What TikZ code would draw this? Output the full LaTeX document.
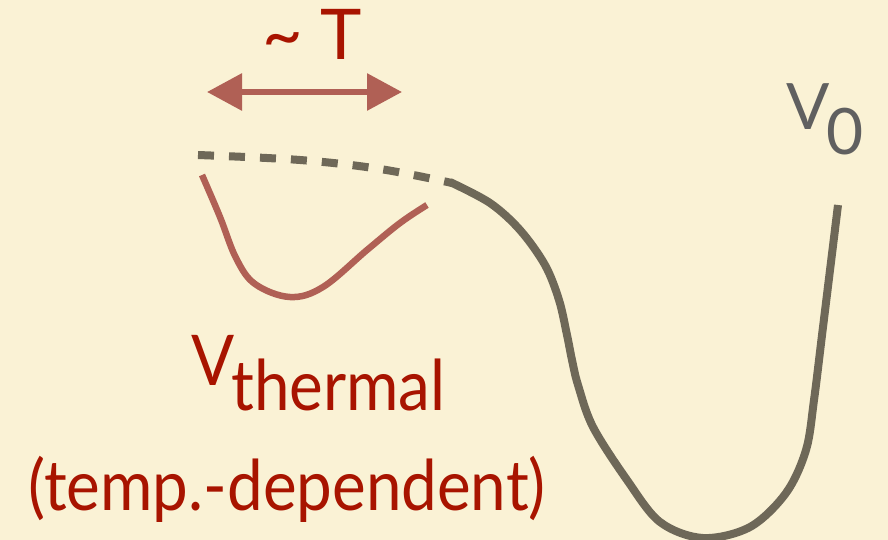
\documentclass[tikz,border=0pt]{standalone}
\usepackage{fontspec}
\setmainfont{Lato}
\newfontfamily\narrowfont[FakeStretch=0.91]{Lato}
\usetikzlibrary{arrows.meta}
\definecolor{bgc}{RGB}{250,242,213}
\definecolor{textred}{RGB}{168,20,0}
\definecolor{arrred}{RGB}{176,96,85}
\definecolor{curvegrey}{RGB}{110,104,88}
\definecolor{labgrey}{RGB}{96,96,96}
\tikzset{
  potline/.style={line width=8pt, color=curvegrey},
  thermline/.style={line width=6.5pt, color=arrred, line cap=butt},
  redlabel/.style={text=textred, inner sep=0pt, font=\fontsize{70}{80}\selectfont},
  narrowlabel/.style={text=textred, inner sep=0pt, font=\narrowfont\fontsize{70}{80}\selectfont},
  greylabel/.style={text=labgrey, inner sep=0pt, font=\fontsize{64}{70}\selectfont},
}
\begin{document}
\begin{tikzpicture}[x=1pt,y=-1pt]
\fill[bgc] (0,0) rectangle (888,540);
\useasboundingbox (0,0) rectangle (888,540);
% label ~T
\node[redlabel, anchor=base west] (tlab) at (262,60) {\textasciitilde\ T};
% double arrow
\coordinate (aL) at (207,92);
\coordinate (aR) at (402,92);
\draw[line width=6pt, color=arrred, {Triangle[length=35pt,width=36pt]}-{Triangle[length=35pt,width=36pt]}] (aL) -- (aR);
% dashed part of V0
\draw[potline, dash pattern=on 16pt off 15pt] plot[smooth, tension=0.6] coordinates {(198,155) (300,160) (380,169) (452,183)};
% solid part of V0
\draw[potline] plot[smooth, tension=0.55] coordinates {(450,182) (490,203) (520,230) (545,265) (559,300) (567,335) (572,360) (578,385) (593,427) (627,480) (660,522) (703,538) (750,527) (786,493) (806,450) (814,400) (823,327) (838,205)};
% thermal potential
\draw[thermline] plot[smooth, tension=0.6] coordinates {(202,175) (220,217) (236,258) (255,284) (290,297) (323,287) (367,250) (400,223) (427,205)};
% labels
\node[narrowlabel, anchor=base west] (vth) at (191,385) {V};
\node[narrowlabel, anchor=base west] (vsub) at (231,410) {thermal};
\node[narrowlabel, anchor=base] (dep) at (287,510) {(temp.-dependent)};
\node[greylabel, anchor=base west] (v0) at (786,130) {V};
\node[greylabel, anchor=base west] (v0s) at (826,155) {0};
\end{tikzpicture}
\end{document}
